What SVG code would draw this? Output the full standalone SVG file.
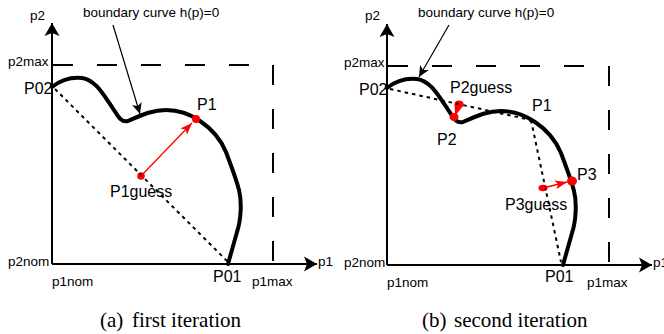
<svg xmlns="http://www.w3.org/2000/svg" width="664" height="334" viewBox="0 0 664 334">
<style>
.lbl{font-family:"Liberation Sans",Arial,sans-serif;font-size:13.5px;fill:#000}
.pt{font-family:"Liberation Sans",Arial,sans-serif;font-size:16px;fill:#000}
.cap{font-family:"Liberation Serif","Times New Roman",serif;font-size:21px;fill:#000}
.axis{stroke:#000;stroke-width:2;fill:none}
.lim{stroke:#000;stroke-width:2;fill:none;stroke-dasharray:20 24}
.curve{stroke:#000;stroke-width:4;fill:none;stroke-linecap:round}
.dot{stroke:#000;stroke-width:2;fill:none;stroke-dasharray:3.5 4}
.red{stroke:#f00;stroke-width:1.3;fill:none}
.blk{stroke:#000;stroke-width:1.2;fill:none}
</style>
<defs>
<marker id="axh" markerUnits="userSpaceOnUse" viewBox="-14 -8 16 16" refX="0" refY="0" markerWidth="16" markerHeight="16" orient="auto">
<path d="M0,0 L-13,-7.5 L-10,0 L-13,7.5 Z" fill="#000"/>
</marker>
<marker id="bh" markerUnits="userSpaceOnUse" viewBox="-12 -6 14 12" refX="0" refY="0" markerWidth="14" markerHeight="12" orient="auto">
<path d="M0,0 L-11,-5 L-8,0 L-11,5 Z" fill="#000"/>
</marker>
<marker id="rh" markerUnits="userSpaceOnUse" viewBox="-13 -6 14 12" refX="0" refY="0" markerWidth="14" markerHeight="12" orient="auto">
<path d="M0,0 L-12,-4.5 L-9,0 L-12,4.5 Z" fill="#f00"/>
</marker>
<path id="bcurve" d="M52,87 C62,79 72,77 82,78 C96,80 104,96 112,107 C118,116 121,123 128,121 C138,117 150,110 166,110 C180,110 190,114 200,121 C212,129 221,140 226,152 C230,163 236,178 239,190 C242,202 241,220 237,232 L228,264"/>
</defs>

<g id="panel-a">
  <g id="axes-a">
    <line class="axis" x1="52" y1="264" x2="52" y2="23" marker-end="url(#axh)"/>
    <line class="axis" x1="52" y1="264" x2="317" y2="264" marker-end="url(#axh)"/>
    <line class="lim" x1="53" y1="65" x2="253" y2="65"/>
    <line class="lim" x1="273" y1="65" x2="273" y2="264"/>
    <text class="lbl" x="30" y="20">p2</text>
    <text class="lbl" x="8" y="66">p2max</text>
    <text class="lbl" x="8" y="266">p2nom</text>
    <text class="lbl" x="52" y="286">p1nom</text>
    <text class="lbl" x="252" y="286">p1max</text>
    <text class="lbl" x="318" y="266">p1</text>
  </g>
  <g id="boundary-a">
    <use href="#bcurve" class="curve"/>
    <text class="lbl" x="83" y="17">boundary curve h(p)=0</text>
  </g>
  <g id="P02-a"><text class="pt" x="24" y="93.5">P02</text></g>
  <g id="P01-a"><text class="pt" x="213" y="282">P01</text></g>
  <g id="P1-a">
    <circle cx="196" cy="119" r="4" fill="#f00"/>
    <text class="pt" x="197" y="110">P1</text>
  </g>
  <g id="P1guess-a">
    <circle cx="141" cy="176" r="3.8" fill="#f00"/>
    <text class="pt" x="110" y="197">P1guess</text>
  </g>
  <g id="connectors-a">
    <line class="dot" x1="55" y1="89" x2="227" y2="261"/>
    <line class="red" x1="141" y1="176" x2="192" y2="123" marker-end="url(#rh)"/>
    <line class="blk" x1="113" y1="25" x2="140" y2="114" marker-end="url(#bh)"/>
  </g>
  <text class="cap" x="100" y="327">(a)</text>
  <text class="cap" x="132" y="327">first iteration</text>
</g>

<g id="panel-b">
  <g id="axes-b" transform="translate(335,1)">
    <line class="axis" x1="52" y1="264" x2="52" y2="23" marker-end="url(#axh)"/>
    <line class="axis" x1="52" y1="264" x2="317" y2="264" marker-end="url(#axh)"/>
    <line class="lim" x1="53" y1="65" x2="253" y2="65"/>
    <line class="lim" x1="274" y1="65" x2="274" y2="264"/>
  </g>
  <text class="lbl" x="365" y="20">p2</text>
  <text class="lbl" x="344" y="67">p2max</text>
  <text class="lbl" x="344" y="267">p2nom</text>
  <text class="lbl" x="387" y="287">p1nom</text>
  <text class="lbl" x="587" y="287">p1max</text>
  <text class="lbl" x="653" y="267">p1</text>
  <g id="boundary-b">
    <use href="#bcurve" class="curve" transform="translate(335,1)"/>
    <text class="lbl" x="418" y="17">boundary curve h(p)=0</text>
  </g>
  <g id="P02-b"><text class="pt" x="359" y="95">P02</text></g>
  <g id="P01-b"><text class="pt" x="545" y="282">P01</text></g>
  <g id="P1-b">
    <circle cx="531" cy="120" r="2.2" fill="#000"/>
    <text class="pt" x="532" y="111">P1</text>
  </g>
  <g id="P2-b">
    <ellipse cx="454" cy="117" rx="4.5" ry="4" fill="#f00"/>
    <text class="pt" x="437" y="145">P2</text>
  </g>
  <g id="P2guess-b">
    <ellipse cx="459" cy="104" rx="4.5" ry="3.5" fill="#f00"/>
    <text class="pt" x="450" y="93">P2guess</text>
  </g>
  <g id="P3-b">
    <ellipse cx="572" cy="181" rx="5" ry="4.5" fill="#f00"/>
    <text class="pt" x="577" y="180">P3</text>
  </g>
  <g id="P3guess-b">
    <ellipse cx="543" cy="188" rx="4.5" ry="3.3" fill="#f00"/>
    <text class="pt" x="505" y="210">P3guess</text>
  </g>
  <g id="connectors-b">
    <line class="dot" x1="390" y1="89" x2="531" y2="120"/>
    <line class="dot" x1="531" y1="120" x2="561" y2="262"/>
    <line class="red" x1="459" y1="104" x2="455" y2="116" marker-end="url(#rh)"/>
    <line class="red" x1="543" y1="188" x2="567" y2="182" marker-end="url(#rh)"/>
    <line class="blk" x1="449" y1="25" x2="419" y2="77" marker-end="url(#bh)"/>
  </g>
  <text class="cap" x="422" y="327">(b)</text>
  <text class="cap" x="454" y="327">second iteration</text>
</g>
</svg>
